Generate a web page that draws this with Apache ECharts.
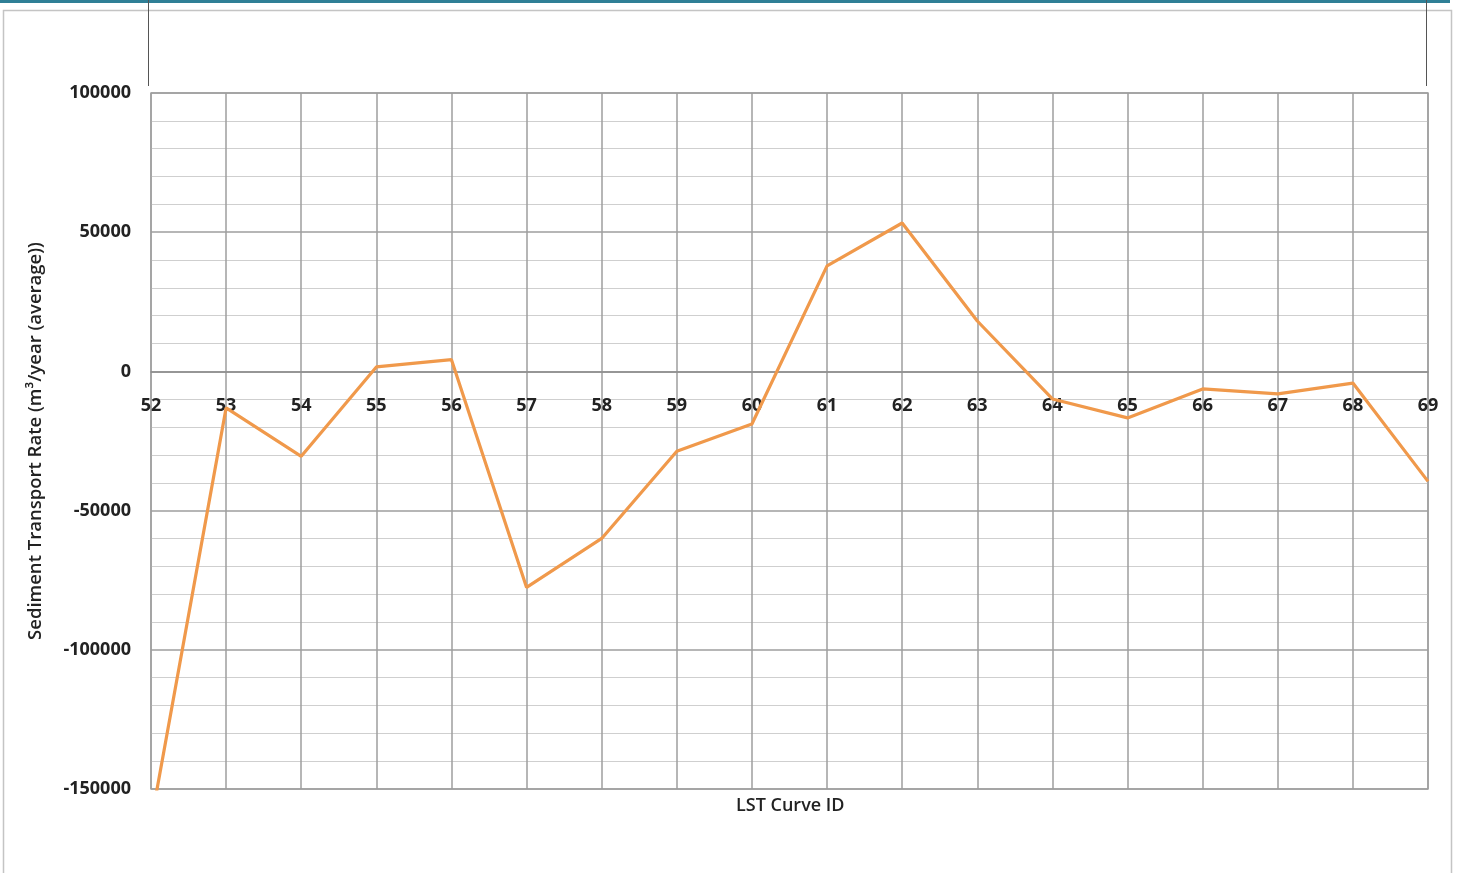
<!DOCTYPE html>
<html>
<head>
<meta charset="utf-8">
<script src="https://cdn.jsdelivr.net/npm/echarts@6/dist/echarts.min.js"></script>
<style>html,body{margin:0;padding:0;background:#fff;}#c{width:1463px;height:873px;}</style>
</head>
<body>
<div id="c"></div>
<script>
const categories = ['52','53','54','55','56','57','58','59','60','61','62','63','64','65','66','67','68','69'];
const transportRate = [-162000,-13100,-30500,1600,4200,-77600,-60000,-28700,-18900,37900,53300,18100,-9900,-16700,-6300,-8100,-4200,-39500];
const yTicks = { min: -150000, max: 100000, interval: 50000 };
const yAxisTitle = 'Sediment Transport Rate (m³/year (average))';
const xAxisTitle = 'LST Curve ID';

const GRID = { left: 151, right: 35, top: 93, bottom: 84 };
const plotH = 873 - GRID.top - GRID.bottom;
const zeroOffset = -plotH * (0 - yTicks.min) / (yTicks.max - yTicks.min);

const chart = echarts.init(document.getElementById('c'));
const FONT = 'Open Sans';
chart.setOption({
  animation: false,
  backgroundColor: '#fff',
  grid: Object.assign({ show: true, borderColor: '#a6a6a6', borderWidth: 1.5, backgroundColor: 'transparent' }, GRID),
  graphic: [
    { type: 'rect', shape: { x: 0, y: 0, width: 1450, height: 3 }, style: { fill: '#2f7f96' }, silent: true },
    { type: 'rect', shape: { x: 3.5, y: 10.5, width: 1448, height: 880 }, style: { fill: 'none', stroke: '#c4c4c4', lineWidth: 1.5 }, silent: true },
    { type: 'line', shape: { x1: 148.5, y1: 0, x2: 148.5, y2: 86 }, style: { stroke: '#555', lineWidth: 1 }, silent: true },
    { type: 'line', shape: { x1: 1426.5, y1: 0, x2: 1426.5, y2: 86 }, style: { stroke: '#555', lineWidth: 1 }, silent: true },
    { type: 'text', left: 736, top: 797, style: { text: xAxisTitle, font: '600 18px "Open Sans"', fill: '#222' } }
  ],
  xAxis: {
    type: 'category',
    data: categories,
    boundaryGap: false,
    position: 'bottom',
    offset: zeroOffset,
    axisLine: { onZero: false, lineStyle: { color: '#8c8c8c', width: 1.5 } },
    axisTick: { show: false },
    axisLabel: { margin: 25, fontFamily: FONT, fontSize: 18, fontWeight: 700, color: '#222' },
    splitLine: { show: true, lineStyle: { color: '#9e9e9e', width: 1.5 } }
  },
  yAxis: {
    type: 'value',
    min: yTicks.min, max: yTicks.max, interval: yTicks.interval,
    name: yAxisTitle,
    nameLocation: 'middle',
    nameRotate: 90,
    nameGap: 106,
    nameTextStyle: { fontFamily: FONT, fontSize: 18.5, fontWeight: 600, color: '#222' },
    axisLine: { show: false },
    axisTick: { show: false },
    axisLabel: { margin: 20, fontFamily: FONT, fontSize: 18, fontWeight: 700, color: '#222', formatter: v => String(v) },
    splitLine: { show: true, lineStyle: { color: '#9e9e9e', width: 1.5 } },
    minorTick: { show: false, splitNumber: 5 },
    minorSplitLine: { show: true, lineStyle: { color: '#cfcfcf', width: 1.2 } }
  },
  series: [{
    type: 'line',
    data: transportRate,
    showSymbol: false,
    symbol: 'none',
    clip: true,
    lineStyle: { color: '#F0994B', width: 3.2 },
    itemStyle: { color: '#F0994B' }
  }]
});
</script>
</body>
</html>
